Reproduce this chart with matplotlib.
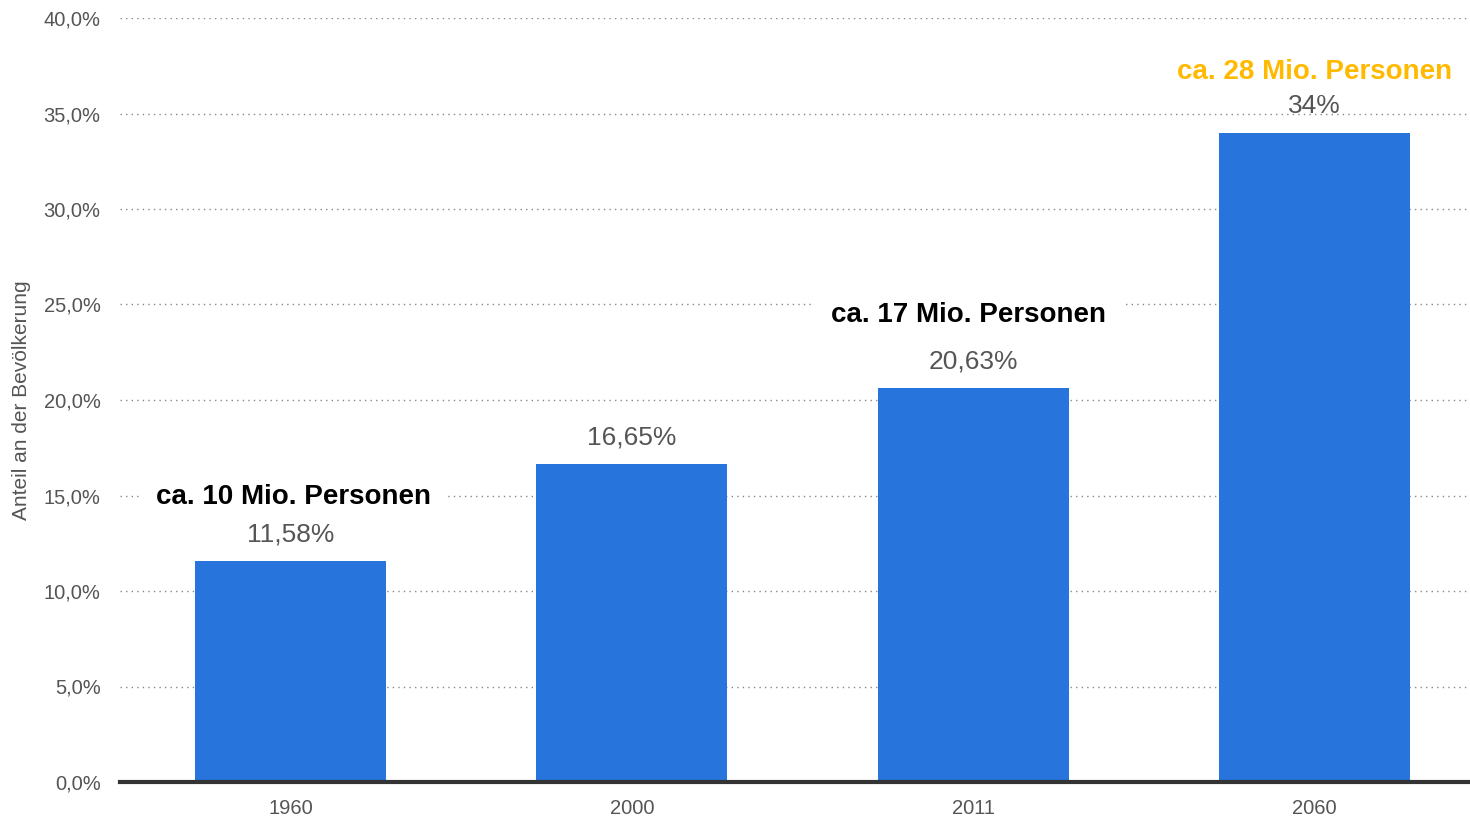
import matplotlib.pyplot as plt
from matplotlib.ticker import FuncFormatter, MultipleLocator

plt.rcParams["font.family"] = ["Liberation Sans", "DejaVu Sans"]

years = ["1960", "2000", "2011", "2060"]
shares = [11.58, 16.65, 20.63, 34.0]
share_labels = ["11,58%", "16,65%", "20,63%", "34%"]
persons = ["ca. 10 Mio. Personen", "", "ca. 17 Mio. Personen", "ca. 28 Mio. Personen"]
person_colors = ["#000000", "#000000", "#000000", "#FFBA00"]
# label centre offsets (points) relative to the bar top
person_offsets = [(2, 46), (0, 0), (-3, 52.5), (0, 43.5)]

BAR_COLOR = "#2775dc"
TEXT_GREY = "#555555"

fig = plt.figure(figsize=(14.7, 8.19), dpi=100)
ax = fig.add_axes([120 / 1470, 1 - 782 / 819, 1350 / 1470, (782 - 18) / 819])

x = range(len(years))
ax.bar(x, shares, width=0.56, color=BAR_COLOR, zorder=2)

ax.set_xlim(-0.501, 3.457)
ax.set_ylim(0, 40)
ax.yaxis.set_major_locator(MultipleLocator(5))
ax.yaxis.set_major_formatter(FuncFormatter(lambda v, _: f"{v:.1f}%".replace(".", ",")))
ax.set_xticks(list(x), years)

for side in ("top", "right", "left"):
    ax.spines[side].set_visible(False)
ax.spines["bottom"].set_color("#333333")
ax.spines["bottom"].set_linewidth(3)
ax.spines["bottom"].set_zorder(4)

ax.tick_params(axis="y", length=0, pad=14, labelsize=14.5, labelcolor=TEXT_GREY)
ax.tick_params(axis="x", length=0, pad=12, labelsize=14.5, labelcolor=TEXT_GREY)
ax.grid(axis="y", linestyle=(0, (1, 3)), color="#888888", linewidth=1, zorder=0)
ax.set_axisbelow(True)

ax.set_ylabel("Anteil an der Bevölkerung", fontsize=15, color=TEXT_GREY)
ax.yaxis.set_label_coords(-0.066, 0.5)

for i, (val, lab) in enumerate(zip(shares, share_labels)):
    ax.annotate(lab, (i, val), xytext=(0, 19.2), textcoords="offset points",
                ha="center", va="center", fontsize=19, color=TEXT_GREY, zorder=6)
    if persons[i]:
        ax.annotate(persons[i], (i, val), xytext=person_offsets[i],
                    textcoords="offset points", ha="center", va="center",
                    fontsize=20, fontweight="bold", color=person_colors[i], zorder=5,
                    bbox=dict(boxstyle="square,pad=0.6", fc="white", ec="none"))

fig.savefig("out.png", dpi=100)
